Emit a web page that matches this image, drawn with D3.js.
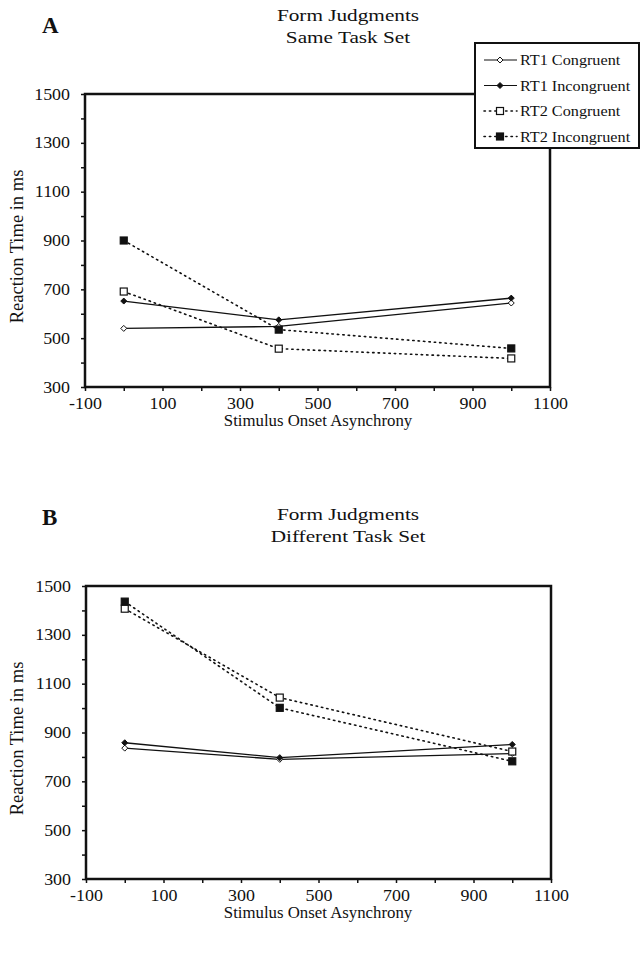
<!DOCTYPE html>
<html>
<head>
<meta charset="utf-8">
<script src="https://cdn.jsdelivr.net/npm/d3@7"></script>
<style>
  body { margin: 0; background: #fff; }
  text { font-family: "Liberation Serif", "DejaVu Serif", serif; fill: #111; }
</style>
</head>
<body>
<div id="chart"></div>
<script>
// x values (SOA) shared by every series
const soa = [0, 400, 1000];

const seriesNames = ["RT1 Congruent", "RT1 Incongruent", "RT2 Congruent", "RT2 Incongruent"];

// panel A - same task set
const sameRT1Cong = [540, 548, 644];
const sameRT1Incong = [652, 575, 664];
const sameRT2Cong = [691, 457, 417];
const sameRT2Incong = [900, 535, 458];

// panel B - different task set
const diffRT1Cong = [836, 790, 814];
const diffRT1Incong = [858, 797, 851];
const diffRT2Cong = [1407, 1043, 822];
const diffRT2Incong = [1436, 1001, 782];

const xTicks = [-100, 100, 300, 500, 700, 900, 1100];
const yTicks = [300, 500, 700, 900, 1100, 1300, 1500];

const W = 643, H = 953;
const svg = d3.select("#chart").append("svg")
  .attr("width", W).attr("height", H);

// the scanned type is a bit wider than Liberation Serif, so stretch it
function label(g, str, x, y, size, sx, anchor) {
  return g.append("text").text(str)
    .attr("transform", `translate(${x},${y}) scale(${sx},1)`)
    .attr("text-anchor", anchor || "middle")
    .attr("font-size", size);
}

// style per series: dotted?, marker shape, filled?
const styles = [
  { dash: null, shape: "diamond", fill: false },
  { dash: null, shape: "diamond", fill: true },
  { dash: "1.4,4", shape: "square", fill: false },
  { dash: "1.4,4", shape: "square", fill: true }
];

function marker(g, s, x, y) {
  if (s.shape === "diamond") {
    g.append("path")
      .attr("d", `M${x},${y - 3}L${x + 3},${y}L${x},${y + 3}L${x - 3},${y}Z`)
      .attr("fill", s.fill ? "#111" : "#fff")
      .attr("stroke", "#111").attr("stroke-width", 1);
  } else {
    g.append("rect")
      .attr("x", x - 3.5).attr("y", y - 3.5)
      .attr("width", 7).attr("height", 7)
      .attr("fill", s.fill ? "#111" : "#fff")
      .attr("stroke", "#111").attr("stroke-width", 1.2);
  }
}

function panel(opt) {
  const x = d3.scaleLinear().domain([-100, 1100]).range([opt.left, opt.right]);
  const y = d3.scaleLinear().domain([300, 1500]).range([opt.bottom, opt.top]);
  const g = svg.append("g");

  // letter and titles
  g.append("text").text(opt.letter)
    .attr("x", 42).attr("y", opt.letterY)
    .attr("font-size", 23).attr("font-weight", "bold");
  label(g, "Form Judgments", 348, opt.titleY, 17, 1.25);
  label(g, opt.subtitle, 348, opt.titleY + 22, 17, 1.25);

  // axes
  const yAxis = d3.axisLeft(y).tickValues(d3.range(300, 1501, 100))
    .tickSize(4).tickFormat(d => yTicks.includes(d) ? d : "");
  const xAxis = d3.axisBottom(x).tickValues(d3.range(-100, 1101, 100))
    .tickSize(4).tickFormat(d => xTicks.includes(d) ? d : "");

  const ya = g.append("g").attr("transform", `translate(${opt.left},0)`).call(yAxis);
  const xa = g.append("g").attr("transform", `translate(0,${opt.bottom})`).call(xAxis);
  const sx = 1.12;
  [ya, xa].forEach(a => {
    a.select(".domain").remove();
    a.selectAll(".tick line").attr("stroke", "#111").attr("stroke-width", 1.5);
    a.selectAll(".tick text").attr("font-size", 16)
      .attr("font-family", "Liberation Serif, serif").attr("fill", "#111")
      .attr("transform", `scale(${sx},1)`);
  });
  ya.selectAll(".tick text").attr("x", -15 / sx);
  xa.selectAll(".tick text").attr("y", 11);

  // plot frame
  g.append("rect")
    .attr("x", opt.left).attr("y", opt.top)
    .attr("width", opt.right - opt.left).attr("height", opt.bottom - opt.top)
    .attr("fill", "none").attr("stroke", "#111").attr("stroke-width", 2.5);

  // axis titles
  label(g, "Stimulus Onset Asynchrony", 318, opt.bottom + 39, 16, 1.05);
  g.append("text").text("Reaction Time in ms")
    .attr("transform", `translate(23,${(opt.top + opt.bottom) / 2 + 6}) rotate(-90)`)
    .attr("text-anchor", "middle").attr("font-size", 18.5);

  // series
  const line = d3.line().x((d, i) => x(soa[i])).y(d => y(d));
  opt.series.forEach((vals, k) => {
    const s = styles[k];
    g.append("path").attr("d", line(vals))
      .attr("fill", "none").attr("stroke", "#111")
      .attr("stroke-width", s.dash ? 1.6 : 1.3)
      .attr("stroke-dasharray", s.dash)
      .attr("stroke-linecap", s.dash ? "round" : null);
  });
  opt.series.forEach((vals, k) => {
    vals.forEach((v, i) => marker(g, styles[k], x(soa[i]), y(v)));
  });
}

panel({
  letter: "A", letterY: 33, titleY: 21, subtitle: "Same Task Set",
  left: 85, right: 550, top: 94, bottom: 387,
  series: [sameRT1Cong, sameRT1Incong, sameRT2Cong, sameRT2Incong]
});

panel({
  letter: "B", letterY: 525, titleY: 520, subtitle: "Different Task Set",
  left: 86, right: 551, top: 586, bottom: 879,
  series: [diffRT1Cong, diffRT1Incong, diffRT2Cong, diffRT2Incong]
});

// legend (drawn over panel A's corner)
const lg = svg.append("g");
lg.append("rect")
  .attr("x", 475).attr("y", 43).attr("width", 164).attr("height", 105)
  .attr("fill", "#fff").attr("stroke", "#111").attr("stroke-width", 2);
seriesNames.forEach((name, k) => {
  const yy = 60 + k * 25.5;
  const s = styles[k];
  lg.append("line")
    .attr("x1", 484).attr("x2", 517).attr("y1", yy).attr("y2", yy)
    .attr("stroke", "#111").attr("stroke-width", s.dash ? 1.6 : 1.2)
    .attr("stroke-dasharray", s.dash).attr("stroke-linecap", s.dash ? "round" : null);
  marker(lg, s, 500, yy);
  label(lg, name, 520, yy + 5, 15, 1.08, "start");
});
</script>
</body>
</html>
